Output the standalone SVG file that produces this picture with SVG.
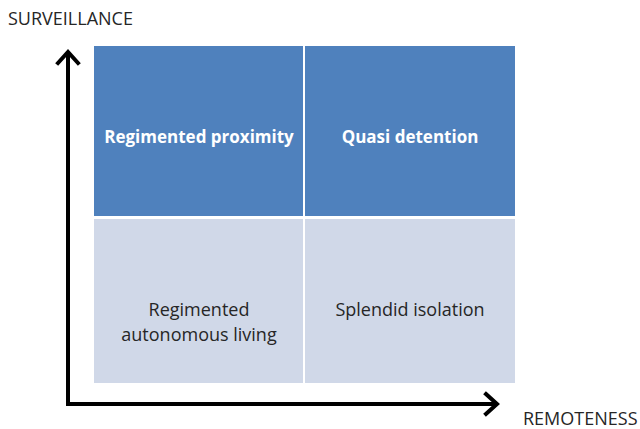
<svg xmlns="http://www.w3.org/2000/svg" width="640" height="429" viewBox="0 0 640 429">
  <style>
    .dark { fill: #4F81BD; }
    .light { fill: #D0D8E8; }
    .axis { stroke: #000; stroke-width: 4; fill: none; }
    .head { stroke: #000; stroke-width: 4; fill: none; stroke-linecap: square; stroke-linejoin: miter; }
    .lbl-bold { font-family: "Open Sans", "Liberation Sans", sans-serif; font-weight: bold; font-size: 17px; fill: #fff; text-anchor: middle; }
    .lbl { font-family: "Open Sans", "Liberation Sans", sans-serif; font-size: 18px; fill: #262626; text-anchor: middle; }
    .axis-lbl { font-family: "Open Sans", "Liberation Sans", sans-serif; font-size: 18px; fill: #262626; }
  </style>
  <rect width="640" height="429" fill="#fff"/>

  <g id="cell-regimented-proximity">
    <rect class="dark" x="94" y="46" width="209" height="170"/>
    <text class="lbl-bold" x="199" y="143">Regimented proximity</text>
  </g>
  <g id="cell-quasi-detention">
    <rect class="dark" x="305" y="46" width="210" height="170"/>
    <text class="lbl-bold" x="410" y="143">Quasi detention</text>
  </g>
  <g id="cell-regimented-autonomous">
    <rect class="light" x="94" y="219" width="209" height="164"/>
    <text class="lbl" x="199" y="316">Regimented</text>
    <text class="lbl" x="199" y="341">autonomous living</text>
  </g>
  <g id="cell-splendid-isolation">
    <rect class="light" x="305" y="219" width="210" height="164"/>
    <text class="lbl" x="410" y="316">Splendid isolation</text>
  </g>

  <g id="connectors">
    <path class="axis" d="M68 52 V404 H497"/>
    <path class="head" d="M58 63 L68 52 L78 63"/>
    <path class="head" d="M486 394 L497 404 L486 414"/>
  </g>

  <g id="axis-labels">
    <text class="axis-lbl" x="8" y="25">SURVEILLANCE</text>
    <text class="axis-lbl" x="523" y="425">REMOTENESS</text>
  </g>
</svg>
